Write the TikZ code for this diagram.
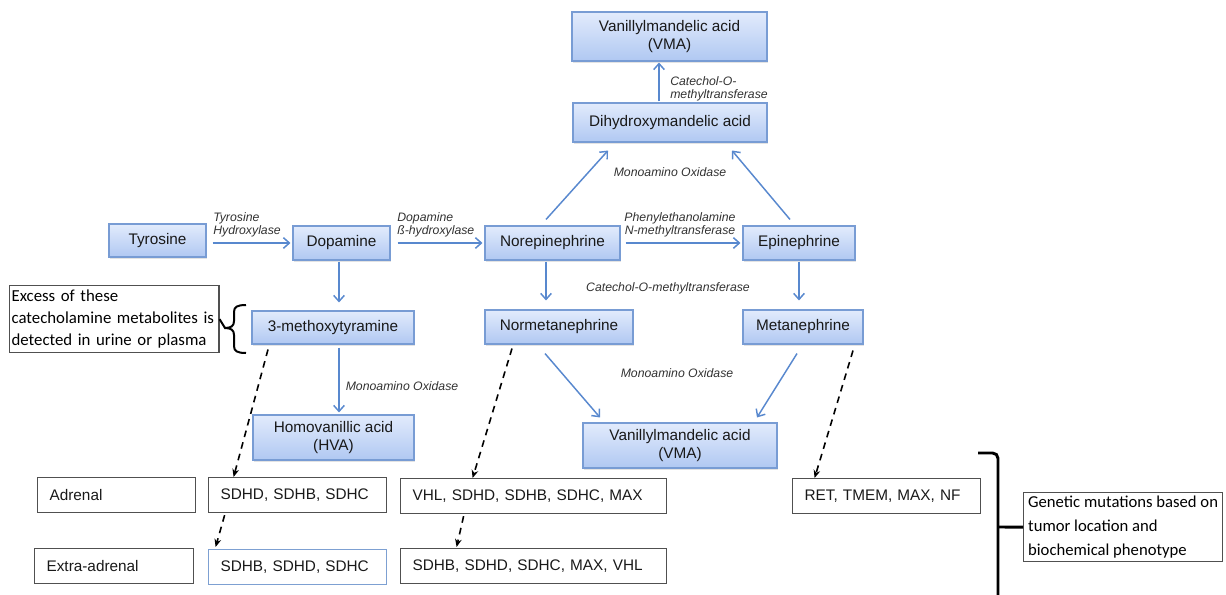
\documentclass[tikz,border=0pt]{standalone}
\usepackage{fontspec}
\setmainfont{Liberation Sans}
\newfontfamily\calfont{Carlito}
\usetikzlibrary{arrows.meta,calc,shadows}
\definecolor{arrblue}{RGB}{88,136,206}
\definecolor{boxedge}{RGB}{120,156,212}
\definecolor{boxtop}{RGB}{226,235,252}
\definecolor{boxbot}{RGB}{176,200,242}
\definecolor{txt}{RGB}{25,25,25}
\definecolor{lbltxt}{RGB}{50,50,50}
\definecolor{gedge}{RGB}{80,80,80}
\definecolor{sdhbedge}{RGB}{125,160,210}
\begin{document}
\begin{tikzpicture}[x=0.75pt,y=-0.75pt,
  bbox/.style={draw=boxedge, line width=0.8pt, top color=boxtop, bottom color=boxbot,
    inner sep=0pt, align=center, text=txt, font=\fontsize{11.5}{13.5}\selectfont,
    drop shadow={opacity=0.22, shadow xshift=1pt, shadow yshift=-1.3pt}},
  gbox/.style={draw=gedge, line width=0.9pt, anchor=north west, inner xsep=9pt, inner ysep=0pt,
    minimum height=26.25pt, align=left, text=txt, font=\fontsize{11.5}{13}\selectfont},
  cbox/.style={draw=gedge, line width=0.9pt, anchor=north west, inner xsep=1.5pt, inner ysep=0pt,
    align=left, text=black},
  lbl/.style={font=\itshape\fontsize{9.2}{10.1}\selectfont, text=lbltxt, inner sep=0pt, align=left},
  barrow/.style={draw=arrblue, line width=1.1pt, -{Straight Barb[length=4.5pt,width=8pt]}},
  darrow/.style={draw=black, line width=1.2pt, dash pattern=on 5pt off 4pt, -{Stealth[length=6pt,width=5pt]}},
  bracel/.style={draw=black, line width=1.5pt},
  bracer/.style={draw=black, line width=2.2pt}
]
\useasboundingbox (0,0) rectangle (1226,595);

% blue boxes
\node[bbox, minimum width=146.25pt, minimum height=36.75pt] (vmaT) at (669.5,36.5) {Vanillylmandelic acid\\(VMA)};
\node[bbox, minimum width=145.5pt, minimum height=29.25pt] (dhm) at (670,122.5) {Dihydroxymandelic acid};
\node[bbox, minimum width=72.75pt, minimum height=24.75pt] (tyr) at (157.5,240.5) {Tyrosine};
\node[bbox, minimum width=72.75pt, minimum height=25.5pt] (dop) at (341.5,243) {Dopamine};
\node[bbox, minimum width=101.25pt, minimum height=25.5pt] (nor) at (552.5,243) {Norepinephrine};
\node[bbox, minimum width=84pt, minimum height=25.5pt] (epi) at (799,243) {Epinephrine};
\node[bbox, minimum width=121.5pt, minimum height=24.75pt] (mty) at (333,327.5) {3-methoxytyramine};
\node[bbox, minimum width=111pt, minimum height=25.5pt] (nmn) at (559,327) {Normetanephrine};
\node[bbox, minimum width=90pt, minimum height=25.5pt] (mn) at (803,327) {Metanephrine};
\node[bbox, minimum width=120.75pt, minimum height=33.75pt] (hva) at (333.5,437.5) {Homovanillic acid\\(HVA)};
\node[bbox, minimum width=145.5pt, minimum height=33.75pt] (vmaB) at (680,445.5) {Vanillylmandelic acid\\(VMA)};

% text boxes
\node[gbox, text width=100.5pt] (adr) at (37,477) {Adrenal};
\node[gbox, text width=115.5pt] (sdhdA) at (208,477) {SDHD, SDHB, SDHC};
\node[gbox, text width=181.5pt] (vhlA) at (400,478) {VHL, SDHD, SDHB, SDHC, MAX};
\node[gbox, text width=123pt] (ret) at (792,478) {RET, TMEM, MAX, NF};
\node[gbox, text width=101.25pt] (exa) at (34,548) {Extra-adrenal};
\node[gbox, draw=sdhbedge, text width=115.5pt] (sdhbB) at (208,549) {SDHB, SDHD, SDHC};
\node[gbox, text width=181.5pt] (sdhbC) at (400,548) {SDHB, SDHD, SDHC, MAX, VHL};

\node[cbox, text width=154pt, minimum height=50.25pt, font=\calfont\fontsize{12.6}{16.8}\selectfont] (exc) at (9,285)
  {Excess of these\\catecholamine metabolites is\\detected in urine or plasma};
\node[cbox, minimum width=149.25pt, minimum height=51.75pt, font=\calfont\fontsize{12.5}{17.8}\selectfont] (gen) at (1023,492)
  {Genetic mutations based on\\tumor location and\\biochemical phenotype};

% enzyme labels
\node[lbl, anchor=north west] (l1) at (213,212) {Tyrosine\\Hydroxylase};
\node[lbl, anchor=north west] (l2) at (397,212) {Dopamine\\ß-hydroxylase};
\node[lbl, anchor=north, align=center] (l3) at (680,212) {Phenylethanolamine\\N-methyltransferase};
\node[lbl, anchor=north west] (l4) at (670,76) {Catechol-O-\\methyltransferase};
\node[lbl] (l5) at (670,172) {Monoamino Oxidase};
\node[lbl] (l6) at (668,288) {Catechol-O-methyltransferase};
\node[lbl] (l7) at (402,386) {Monoamino Oxidase};
\node[lbl] (l8) at (677,373) {Monoamino Oxidase};

% blue arrows
\draw[barrow] ($(tyr.east)+(6,2.5)$) -- ($(dop.west)+(-2,0)$);
\draw[barrow] ($(dop.east)+(7,0)$) -- ($(nor.west)+(-2,0)$);
\draw[barrow] ($(nor.east)+(5,0)$) -- ($(epi.west)+(-2,0)$);
\draw[barrow] ($(nor.north)+(-6.5,-6)$) -- ($(dhm.south)+(-62,8)$);
\draw[barrow] ($(epi.north)+(-9,-6)$) -- ($(dhm.south)+(62,8)$);
\draw[barrow] ($(dhm.north)+(-11,-1)$) -- ($(vmaT.south)+(-10.5,1)$);
\draw[barrow] ($(dop.south)+(-2.5,1)$) -- ($(mty.north)+(6,-8)$);
\draw[barrow] ($(nor.south)+(-6.5,1)$) -- ($(nmn.north)+(-13,-9)$);
\draw[barrow] ($(epi.south)+(0,1)$) -- ($(mn.north)+(-4,-9)$);
\draw[barrow] ($(mty.south)+(6,3)$) -- ($(hva.north)+(5.5,-2)$);
\draw[barrow] ($(nmn.south)+(-14,9)$) -- ($(vmaB.north)+(-80,-5)$);
\draw[barrow] ($(mn.south)+(-6,9)$) -- ($(vmaB.north)+(77,-5)$);

% dashed arrows
\draw[darrow] ($(mty.south)+(-65,5)$) -- ($(sdhdA.north)+(-64,0)$);
\draw[darrow] ($(sdhdA.south)+(-73,2)$) -- ($(sdhbB.north)+(-82,-2)$);
\draw[darrow] ($(nmn.south)+(-47,4)$) -- ($(vhlA.north)+(-61,0)$);
\draw[darrow] ($(vhlA.south)+(-70,2)$) -- ($(sdhbC.north)+(-77,-1)$);
\draw[darrow] ($(mn.south)+(50,6)$) -- ($(ret.north)+(-72,0)$);

% left brace
\draw[bracel] (exc.east) -- (225,328)
  .. controls (231,328) and (234,326) .. (234,321) -- (234,312)
  .. controls (234,307) and (237,305) .. (246,305);
\draw[bracel] (225,328)
  .. controls (231,328) and (234,330) .. (234,335) -- (234,346)
  .. controls (234,351) and (237,353) .. (246,353);

% right brace
\draw[bracer, rounded corners=4pt] (978,453) -- (998,453) -- (998,598);
\draw[bracer] (998,527) -- (gen.west);
\end{tikzpicture}
\end{document}
